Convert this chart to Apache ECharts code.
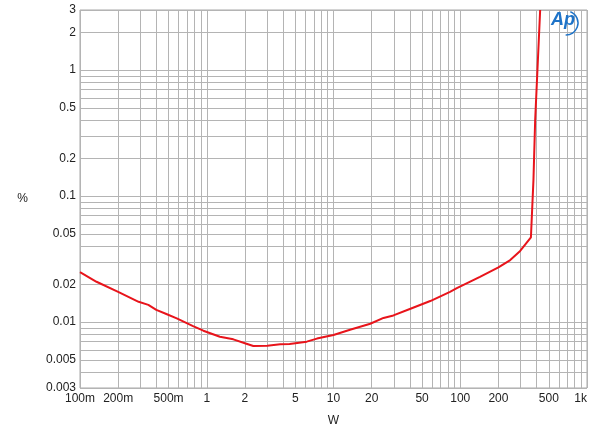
<!DOCTYPE html>
<html>
<head>
<meta charset="utf-8">
<script src="https://cdn.jsdelivr.net/npm/echarts@6/dist/echarts.min.js"></script>
<style>html,body{margin:0;padding:0;background:#fff}#c{width:600px;height:432px}</style>
</head>
<body>
<div id="c"></div>
<script>
// Power (W)
const powerW = [0.1, 0.135, 0.2, 0.29, 0.346, 0.40, 0.48, 0.58, 0.78, 0.94, 1.27, 1.62, 2.0, 2.33, 3.0, 3.8, 4.5, 6.15, 7.4, 10, 13.5, 19.5, 24.8, 29.7, 40, 58, 83, 94, 143, 200, 248, 297, 361, 378, 390, 427];
// THD+N (%)
const thdPct = [0.0249, 0.0209, 0.0174, 0.0145, 0.0137, 0.0125, 0.0116, 0.0107, 0.0093, 0.00855, 0.00766, 0.0073, 0.0068, 0.00646, 0.0065, 0.00667, 0.0067, 0.0070, 0.0074, 0.0079, 0.0087, 0.0097, 0.0108, 0.0113, 0.0127, 0.0147, 0.0174, 0.0186, 0.0229, 0.0272, 0.0311, 0.0367, 0.047, 0.134, 0.40, 3.0];

const xTickLabels = [0.1, 0.2, 0.5, 1, 2, 5, 10, 20, 50, 100, 200, 500, 1000];
const yTickLabels = [0.003, 0.005, 0.01, 0.02, 0.05, 0.1, 0.2, 0.5, 1, 2, 3];
const xGridValues = [0.1,0.2,0.3,0.4,0.5,0.6,0.7,0.8,0.9,1,2,3,4,5,6,7,8,9,10,20,30,40,50,60,70,80,90,100,200,300,400,500,600,700,800,900,1000];
const yGridValues = [0.003,0.004,0.005,0.006,0.007,0.008,0.009,0.01,0.02,0.03,0.04,0.05,0.06,0.07,0.08,0.09,0.1,0.2,0.3,0.4,0.5,0.6,0.7,0.8,0.9,1,2,3];

function fmtX(v) {
  if (v < 1) return Math.round(v * 1000) + 'm';
  if (v >= 1000) return Math.round(v / 1000) + 'k';
  return String(Math.round(v));
}
function fmtY(v) {
  return String(parseFloat(v.toPrecision(3)));
}

const chart = echarts.init(document.getElementById('c'), null, {renderer: 'canvas'});
const gridColor = '#b4b4b4';
chart.setOption({
  animation: false,
  backgroundColor: '#fff',
  grid: {left: 80, right: 13, top: 10, bottom: 44, show: true, borderColor: '#a8a8a8', borderWidth: 1, containLabel: false},
  xAxis: {
    type: 'log', logBase: 10, min: 0.1, max: 1000,
    name: 'W', nameLocation: 'middle', nameGap: 27,
    nameTextStyle: {fontFamily: 'Liberation Sans', fontSize: 12, color: '#222'},
    axisLine: {show: false},
    axisTick: {show: false, customValues: xGridValues},
    axisLabel: {customValues: xTickLabels, formatter: fmtX, fontFamily: 'Liberation Sans', fontSize: 12, color: '#222', margin: 5, alignMaxLabel: 'right'},
    splitLine: {show: true, lineStyle: {color: gridColor, width: 1}},
    minorSplitLine: {show: false}
  },
  yAxis: {
    type: 'log', logBase: 10, min: 0.003, max: 3,
    name: '%', nameLocation: 'middle', nameGap: 52, nameRotate: 0,
    nameTextStyle: {fontFamily: 'Liberation Sans', fontSize: 12, color: '#222'},
    axisLine: {show: false},
    axisTick: {show: false, customValues: yGridValues},
    axisLabel: {customValues: yTickLabels, formatter: fmtY, fontFamily: 'Liberation Sans', fontSize: 12, color: '#222', margin: 4},
    splitLine: {show: true, lineStyle: {color: gridColor, width: 1}}
  },
  series: [{
    type: 'line',
    data: powerW.map((x, i) => [x, thdPct[i]]),
    showSymbol: false,
    smooth: false,
    clip: true,
    lineStyle: {color: '#e8141b', width: 2},
    z: 5
  }],
  graphic: [
    {type: 'text', left: 551, top: 11, style: {text: 'Ap', font: 'italic bold 18px "Liberation Sans"', fill: '#1e73c8'}, z: 10},
    {type: 'arc', shape: {cx: 566, cy: 23, r: 12, startAngle: -1.2, endAngle: 1.6}, style: {stroke: '#1e73c8', lineWidth: 1.5, fill: null}, z: 10}
  ]
});
</script>
</body>
</html>
